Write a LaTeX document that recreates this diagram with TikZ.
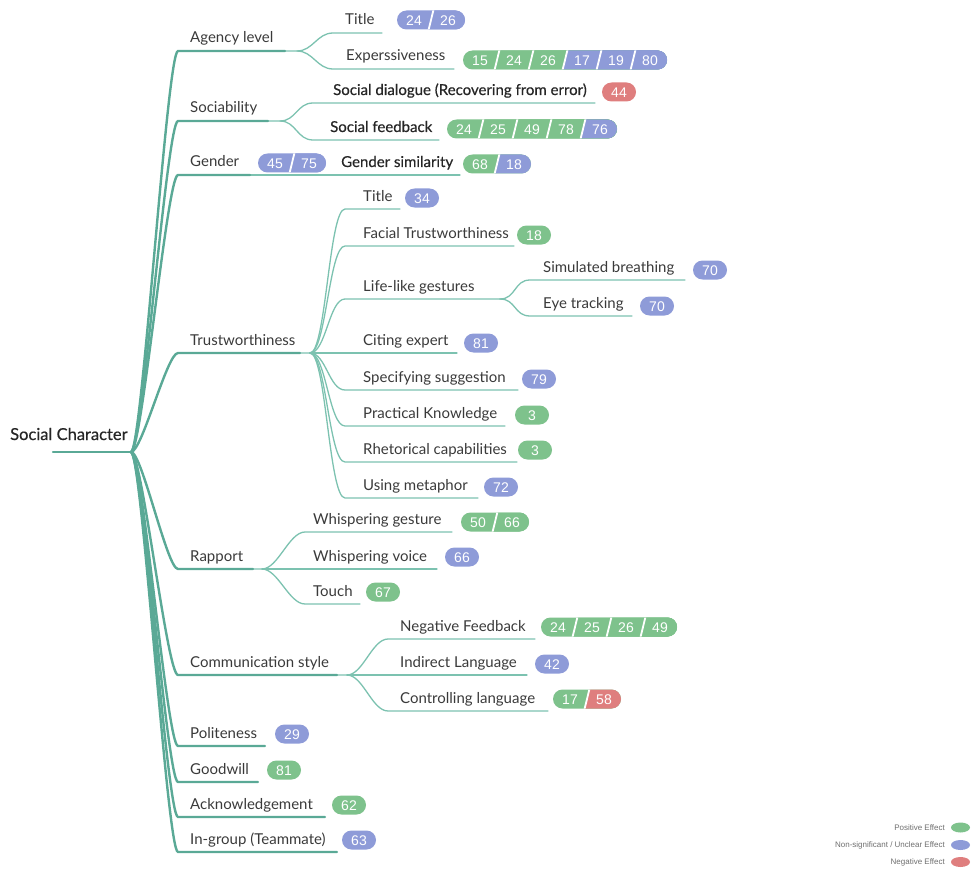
\documentclass[tikz,border=0pt]{standalone}
\usepackage{fontspec}
\setmainfont{Lato}
\newfontfamily\keyfont{Lato}[FakeBold=0.5]
\newfontfamily\badgefont{Liberation Sans}
\usetikzlibrary{calc,shapes.geometric}
\definecolor{branchdark}{HTML}{5AA996}
\definecolor{branchlight}{HTML}{7CC2B0}
\definecolor{inkgray}{HTML}{3A3A3A}
\definecolor{effpositive}{HTML}{7EC28C}
\definecolor{effunclear}{HTML}{8E9BD8}
\definecolor{effnegative}{HTML}{DF7E7E}
\definecolor{legendgray}{HTML}{6E6E6E}
\tikzset{
	% ------- every something
	every picture/.style={
		x=1pt, y=-1pt,
	},
	every node/.style={
		inner sep=0pt,
	},
	% ------- custom
	main branch/.style={
		draw=branchdark, line width=2.4pt, line cap=round,
	},
	sub branch/.style={
		draw=branchlight, line width=1.3pt, line cap=round,
	},
	root curve/.style={
		to path={.. controls +(11,0) and +(-11,0) .. (\tikztotarget)},
	},
	sub curve/.style={
		to path={.. controls +(16,0) and +(-16,0) .. (\tikztotarget)},
	},
	topic/.style={
		anchor=base west, text=inkgray,
		font=\fontsize{15}{18}\selectfont,
	},
	key topic/.style={
		anchor=base west, text=black!85,
		font=\keyfont\fontsize{15}{18}\selectfont,
	},
	root topic/.style={
		anchor=base west, text=black!85,
		font=\keyfont\fontsize{16.5}{20}\selectfont,
	},
	badge number/.style={
		text=white, font=\badgefont\fontsize{14}{16}\selectfont,
	},
	legend text/.style={
		anchor=east, text=legendgray, font=\badgefont\fontsize{8}{9}\selectfont,
	},
	legend swatch/.style={
		ellipse, minimum width=19pt, minimum height=10pt,
	},
}
% name, left x, centre y, colour/number list
\newcommand{\effectbadge}[4]{%
	\foreach \col/\num [count=\i from 0] in {#4} {\xdef\badgelast{\i}}%
	\pgfmathsetmacro\badgeright{#2+(\badgelast+1)*34}%
	\begin{scope}
		\clip[rounded corners=9.5pt] (#2,#3-9.5) rectangle (\badgeright,#3+9.5);
		\foreach \col/\num [count=\i from 0] in {#4} {
			\pgfmathsetmacro\cellleft{\i==0 ? #2-20 : #2+\i*34}
			\fill[\col] (\cellleft+2.5,#3-10) -- (\badgeright+20,#3-10)
				-- (\badgeright+20,#3+10) -- (\cellleft-2.5,#3+10) -- cycle;
			\ifnum\i>0
				\draw[white, line width=1.8pt] (#2+\i*34+2.7,#3-11) -- (#2+\i*34-2.7,#3+11);
			\fi
			\node[badge number] (#1-\i) at (#2+\i*34+17,#3+0.5) {\num};
		}
	\end{scope}
}

\begin{document}
\begin{tikzpicture}

	\useasboundingbox (0,0) rectangle (979,869);

% coordinates %{{{1

	\coordinate (root-start) at (53,452);
	\coordinate (root) at (131,452);

	\coordinate (agency-in) at (178,51);
	\coordinate (agency-out) at (285,51);
	\coordinate (agency-fork) at (297,51);
	\coordinate (sociability-in) at (178,121);
	\coordinate (sociability-out) at (268,121);
	\coordinate (sociability-fork) at (280,121);
	\coordinate (gender-in) at (178,175);
	\coordinate (gender-out) at (250,175);
	\coordinate (trust-in) at (178,353);
	\coordinate (trust-out) at (300,353);
	\coordinate (trust-fork) at (310,353);
	\coordinate (rapport-in) at (178,569);
	\coordinate (rapport-out) at (253,569);
	\coordinate (rapport-fork) at (262,569);
	\coordinate (comm-in) at (178,675);
	\coordinate (comm-out) at (337,675);
	\coordinate (comm-fork) at (347,675);
	\coordinate (politeness-in) at (178,746);
	\coordinate (politeness-out) at (265,746);
	\coordinate (goodwill-in) at (178,782);
	\coordinate (goodwill-out) at (258,782);
	\coordinate (ack-in) at (178,817);
	\coordinate (ack-out) at (325,817);
	\coordinate (ingroup-in) at (178,852);
	\coordinate (ingroup-out) at (337,852);

	\coordinate (a-title-in) at (333,33);
	\coordinate (a-title-out) at (382,33);
	\coordinate (a-expr-in) at (333,69);
	\coordinate (a-expr-out) at (454,69);
	\coordinate (s-dialogue-in) at (313,103);
	\coordinate (s-dialogue-out) at (595,103);
	\coordinate (s-feedback-in) at (313,140);
	\coordinate (s-feedback-out) at (439,140);
	\coordinate (g-similar-out) at (460,175);

	\coordinate (t-title-in) at (345,209);
	\coordinate (t-title-out) at (400,209);
	\coordinate (t-facial-in) at (345,246);
	\coordinate (t-facial-out) at (514,246);
	\coordinate (t-gesture-in) at (345,299);
	\coordinate (t-gesture-out) at (493,299);
	\coordinate (t-gesture-fork) at (500,299);
	\coordinate (t-breath-in) at (530,280);
	\coordinate (t-breath-out) at (685,280);
	\coordinate (t-eye-in) at (530,316);
	\coordinate (t-eye-out) at (632,316);
	\coordinate (t-citing-out) at (457,353);
	\coordinate (t-specify-in) at (345,390);
	\coordinate (t-specify-out) at (518,390);
	\coordinate (t-practical-in) at (345,426);
	\coordinate (t-practical-out) at (505,426);
	\coordinate (t-rhetoric-in) at (345,462);
	\coordinate (t-rhetoric-out) at (517,462);
	\coordinate (t-metaphor-in) at (345,498);
	\coordinate (t-metaphor-out) at (478,498);

	\coordinate (r-gesture-in) at (305,532);
	\coordinate (r-gesture-out) at (452,532);
	\coordinate (r-voice-out) at (437,569);
	\coordinate (r-touch-in) at (305,604);
	\coordinate (r-touch-out) at (360,604);

	\coordinate (c-negative-in) at (388,639);
	\coordinate (c-negative-out) at (535,639);
	\coordinate (c-indirect-out) at (527,675);
	\coordinate (c-control-in) at (388,711);
	\coordinate (c-control-out) at (548,711);

% sub branches %{{{1

	\draw[sub branch] (agency-out) -- (agency-fork) to[sub curve] (a-title-in) -- (a-title-out);
	\draw[sub branch] (agency-fork) to[sub curve] (a-expr-in) -- (a-expr-out);
	\draw[sub branch] (sociability-out) -- (sociability-fork) to[sub curve] (s-dialogue-in) -- (s-dialogue-out);
	\draw[sub branch] (sociability-fork) to[sub curve] (s-feedback-in) -- (s-feedback-out);
	\draw[sub branch] (gender-out) -- (g-similar-out);

	\draw[sub branch] (trust-out) -- (trust-fork) to[sub curve] (t-title-in) -- (t-title-out);
	\draw[sub branch] (trust-fork) to[sub curve] (t-facial-in) -- (t-facial-out);
	\draw[sub branch] (trust-fork) to[sub curve] (t-gesture-in) -- (t-gesture-out) -- (t-gesture-fork);
	\draw[sub branch] (t-gesture-fork) to[sub curve] (t-breath-in) -- (t-breath-out);
	\draw[sub branch] (t-gesture-fork) to[sub curve] (t-eye-in) -- (t-eye-out);
	\draw[sub branch] (trust-fork) -- (t-citing-out);
	\draw[sub branch] (trust-fork) to[sub curve] (t-specify-in) -- (t-specify-out);
	\draw[sub branch] (trust-fork) to[sub curve] (t-practical-in) -- (t-practical-out);
	\draw[sub branch] (trust-fork) to[sub curve] (t-rhetoric-in) -- (t-rhetoric-out);
	\draw[sub branch] (trust-fork) to[sub curve] (t-metaphor-in) -- (t-metaphor-out);

	\draw[sub branch] (rapport-out) -- (rapport-fork) to[sub curve] (r-gesture-in) -- (r-gesture-out);
	\draw[sub branch] (rapport-fork) -- (r-voice-out);
	\draw[sub branch] (rapport-fork) to[sub curve] (r-touch-in) -- (r-touch-out);

	\draw[sub branch] (comm-out) -- (comm-fork) to[sub curve] (c-negative-in) -- (c-negative-out);
	\draw[sub branch] (comm-fork) -- (c-indirect-out);
	\draw[sub branch] (comm-fork) to[sub curve] (c-control-in) -- (c-control-out);

% main branches %{{{1

	\draw[main branch] (root-start) -- (root);
	\draw[main branch] (root) to[root curve] (agency-in) -- (agency-out);
	\draw[main branch] (root) to[root curve] (sociability-in) -- (sociability-out);
	\draw[main branch] (root) to[root curve] (gender-in) -- (gender-out);
	\draw[main branch] (root) to[root curve] (trust-in) -- (trust-out);
	\draw[main branch] (root) to[root curve] (rapport-in) -- (rapport-out);
	\draw[main branch] (root) to[root curve] (comm-in) -- (comm-out);
	\draw[main branch] (root) to[root curve] (politeness-in) -- (politeness-out);
	\draw[main branch] (root) to[root curve] (goodwill-in) -- (goodwill-out);
	\draw[main branch] (root) to[root curve] (ack-in) -- (ack-out);
	\draw[main branch] (root) to[root curve] (ingroup-in) -- (ingroup-out);

% topic labels %{{{1

	\node[root topic] (social) at (10,440) {Social Character};

	\node[topic] (agency) at (190,43) {Agency level};
	\node[topic] (sociability) at (190,113) {Sociability};
	\node[topic] (gender) at (190,167) {Gender};
	\node[topic] (trust) at (190,345) {Trustworthiness};
	\node[topic] (rapport) at (190,561) {Rapport};
	\node[topic] (comm) at (190,667) {Communication style};
	\node[topic] (politeness) at (190,738) {Politeness};
	\node[topic] (goodwill) at (190,774) {Goodwill};
	\node[topic] (ack) at (190,809) {Acknowledgement};
	\node[topic] (ingroup) at (190,844) {In-group (Teammate)};

	\node[topic] (a-title) at (345,25) {Title};
	\node[topic] (a-expr) at (346,61) {Experssiveness};
	\node[key topic] (s-dialogue) at (333,95) {Social dialogue (Recovering from error)};
	\node[key topic] (s-feedback) at (330,132) {Social feedback};
	\node[key topic] (g-similar) at (341,167) {Gender similarity};

	\node[topic] (t-title) at (363,201) {Title};
	\node[topic] (t-facial) at (363,238) {Facial Trustworthiness};
	\node[topic] (t-gesture) at (363,291) {Life-like gestures};
	\node[topic] (t-breath) at (543,272) {Simulated breathing};
	\node[topic] (t-eye) at (543,308) {Eye tracking};
	\node[topic] (t-citing) at (363,345) {Citing expert};
	\node[topic] (t-specify) at (363,382) {Specifying suggestion};
	\node[topic] (t-practical) at (363,418) {Practical Knowledge};
	\node[topic] (t-rhetoric) at (363,454) {Rhetorical capabilities};
	\node[topic] (t-metaphor) at (363,490) {Using metaphor};

	\node[topic] (r-gesture) at (313,524) {Whispering gesture};
	\node[topic] (r-voice) at (313,561) {Whispering voice};
	\node[topic] (r-touch) at (313,596) {Touch};

	\node[topic] (c-negative) at (400,631) {Negative Feedback};
	\node[topic] (c-indirect) at (400,667) {Indirect Language};
	\node[topic] (c-control) at (400,703) {Controlling language};

% effect badges %{{{1

	\effectbadge{b-a-title}{397}{20}{effunclear/24,effunclear/26}
	\effectbadge{b-a-expr}{463}{60}{effpositive/15,effpositive/24,effpositive/26,effunclear/17,effunclear/19,effunclear/80}
	\effectbadge{b-s-dialogue}{602}{92}{effnegative/44}
	\effectbadge{b-s-feedback}{447}{129}{effpositive/24,effpositive/25,effpositive/49,effpositive/78,effunclear/76}
	\effectbadge{b-gender}{258}{163}{effunclear/45,effunclear/75}
	\effectbadge{b-g-similar}{463}{164}{effpositive/68,effunclear/18}

	\effectbadge{b-t-title}{405}{198}{effunclear/34}
	\effectbadge{b-t-facial}{517}{235}{effpositive/18}
	\effectbadge{b-t-breath}{693}{270}{effunclear/70}
	\effectbadge{b-t-eye}{640}{306}{effunclear/70}
	\effectbadge{b-t-citing}{464}{343}{effunclear/81}
	\effectbadge{b-t-specify}{522}{379}{effunclear/79}
	\effectbadge{b-t-practical}{515}{415}{effpositive/3}
	\effectbadge{b-t-rhetoric}{518}{450}{effpositive/3}
	\effectbadge{b-t-metaphor}{484}{487}{effunclear/72}

	\effectbadge{b-r-gesture}{461}{522}{effpositive/50,effpositive/66}
	\effectbadge{b-r-voice}{445}{557}{effunclear/66}
	\effectbadge{b-r-touch}{366}{592}{effpositive/67}

	\effectbadge{b-c-negative}{541}{627}{effpositive/24,effpositive/25,effpositive/26,effpositive/49}
	\effectbadge{b-c-indirect}{535}{664}{effunclear/42}
	\effectbadge{b-c-control}{553}{699}{effpositive/17,effnegative/58}

	\effectbadge{b-politeness}{275}{734}{effunclear/29}
	\effectbadge{b-goodwill}{267}{770}{effpositive/81}
	\effectbadge{b-ack}{332}{805}{effpositive/62}
	\effectbadge{b-ingroup}{342}{840}{effunclear/63}

% legend %{{{1

	\node[legend text] (leg-pos) at (945,827.5) {Positive Effect};
	\node[legend text] (leg-unclear) at (945,845) {Non-significant / Unclear Effect};
	\node[legend text] (leg-neg) at (945,862) {Negative Effect};
	\node[legend swatch, fill=effpositive] (sw-pos) at (960.5,827.5) {};
	\node[legend swatch, fill=effunclear] (sw-unclear) at (960.5,845) {};
	\node[legend swatch, fill=effnegative] (sw-neg) at (960.5,862) {};

% closing %{{{1

\end{tikzpicture}
\end{document}
